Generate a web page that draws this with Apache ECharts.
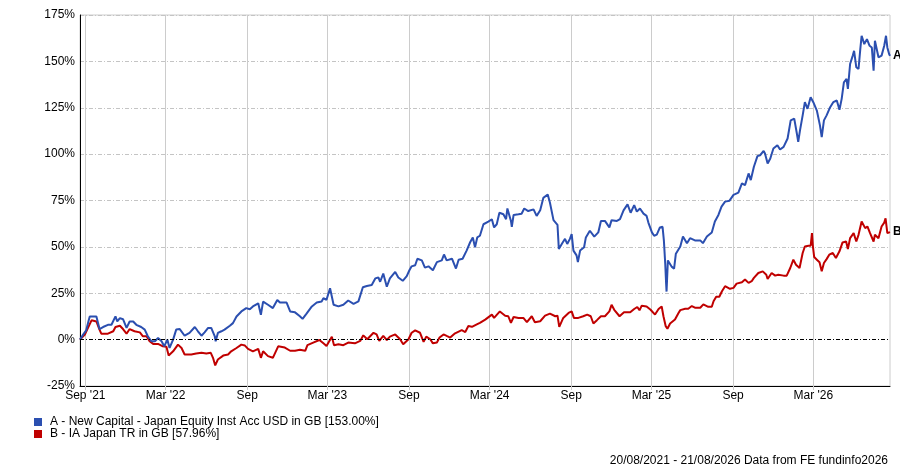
<!DOCTYPE html>
<html><head><meta charset="utf-8">
<script src="https://cdn.jsdelivr.net/npm/echarts@6/dist/echarts.min.js"></script>
<style>html,body{margin:0;padding:0;background:#fff}#c{width:900px;height:467px}</style>
</head><body><div id="c"></div>
<script>
const startDate = '2021-08-20';
const endDate = '2026-08-21';
const tickDates = ['2021-09-01','2022-03-01','2022-09-01','2023-03-01','2023-09-01','2024-03-01','2024-09-01','2025-03-01','2025-09-01','2026-03-01'];
const tickLabels = ["Sep '21","Mar '22","Sep","Mar '23","Sep","Mar '24","Sep","Mar '25","Sep","Mar '26"];
const yTicks = [-25, 175, 25];
const fundName = 'A - New Capital - Japan Equity Inst Acc USD in GB [153.00%]';
const sectorName = 'B - IA Japan TR in GB [57.96%]';
const footerText = '20/08/2021 - 21/08/2026 Data from FE fundinfo2026';

// days since start date
const fundDays = [
0,7,14,20,22,29,37,38,44,52, 63,71,80,84,90,97,105,112,120,127, 138,146,153,161,169,176,184,190,197,202,
210,217,225,236,247,259,266,274,281,289, 296,304,306,311,319,326,338,345,353,364, 375,383,390,402,408,413,424,435,445,
451,466,474,485,496,502,511,523,534,545, 549,556,564,572,583,594,605,617,628,638, 647,658,666,673,677,684,692,699,711,718,
728,737,743,748,756,761,771,778,786,796, 805,816,821,827,839,848,854,863,872,880, 886,891,896,
902,910,921,929,934,940,946,955,961,964, 972,974,978,989,996,1002,1011,1023,1030,1038, 1045,1055,1060,1068,1077,1080,1083,1089,1094,1099,
1105,1109,1113,1120,1123,1128,1137,1141,1150,1160, 1169,1175,1184,1194,1199,1211,1218,1226,1235,1242, 1250,1256,1263,1271,1278,1282,1290,1295,1301,1308,
1314,1317,1320,1322,1323,1326,1329,1335,1340,1344,
1354,1360,1369,1376,1387,1399,1405,1414,1425,1432, 1440,1447,1455,1465,1474,1485,1493,1500,1508,1513, 1520,1528,1534,1542,1545,1551,1557,1564,1573,1579,
1587,1596,1603,1611,1617,1620,1624,1630,1635,1641, 1648,1654,1662,1669,1673,1678,1684,1692,1699,1707, 1713,1718,1723,1729,1732,1737,1743,1746,1751,1756,
1760,1763,1769,1775,1781,1786,1790,1793,1801,1808, 1814,1818,1821,1825,1827
];
const fundValues = [
0,2.7,5,10.7,12.5,12.5,12.5,13.4,5.7,6.8, 8,8,12.5,9.8,11.6,11,6.3,9.8,9.8,8, 6.8,5.4,1.8,-0.9,-0.9,0.9,-0.9,-3.6,0,-4.5,
0,5.4,5.7,2.1,3.6,6.8,4.5,2.1,3.9,6.3, 6.3,1.8,-0.9,3.6,4.5,5.4,7.5,8.9,12.5,15.2, 17,16.4,17.9,19.6,13.4,20.5,18.8,17,21.4,
20,20,15.2,14.7,12.6,11.2,14,17.9,20,20.6, 22.3,21.5,27.7,18.8,17.9,18.8,21.1,19.3,20.6,28.2, 28.9,29.4,33,33.5,31.2,35.6,28.5,33,36.5,33.5,
31.7,34.2,37.4,39.5,40.1,43.6,42.7,38.8,39.5,37.4, 41.8,42.7,45.9,42.7,43.6,38.3,43.1,43.6,48,52.5, 55.1,49.8,55.1,
56,62.2,63.6,64.9,60.5,62.2,68.4,67.6,64.9,70.7, 64,60.8,67.2,67.6,67.9,70.7,69.3,70.2,66.7,69.7, 76.4,78.2,73.8,64.4,61.9,48.9,48,52.5,54.3,51.6,
54.3,56.9,48,45.4,41.8,48,49.8,55.1,58.7,55.5, 57.8,64,64,60.5,64.4,64,64.9,69.7,72.9,68.4, 72.5,69,70.7,67.9,66.7,63.1,57.8,56,56.6,60.5,
60.8,53.4,41,30.3,25.9,42.7,43.6,39.2,38.3,46.3,
50.2,55.6,52,54.7,53.5,53.5,52,55.6,57.8,63.7, 67.2,71.7,74.4,74.9,78,79.2,84.2,83.3,89.6,86, 93.2,98.9,99.4,101.7,100.3,94.9,97.6,103,104.8,102.5,
103.9,108.4,118.2,119.1,111,106.6,112.8,120.9,128,124.4, 130.7,128,123.5,115.5,109.2,118.2,120.9,125.3,128,128.9, 123.9,129.8,138.7,140.5,135.2,148.6,153.1,155.7,146.8,145.9,
156.6,163.8,159.3,162,158.4,157.5,145,161.1,152.2,153.1, 158.4,163.8,157.5,154,153
];
const sectorDays = [
0,11,18,26,37,44,48,63,67,75, 80,90,97,105,112,123,135,142,150,157, 165,176,187,195,200,210,221,229,236,251,
262,274,285,295,300,305,311,323,334,341, 353,364,372,379,390,402,408,413,424,435, 447,
451,462,474,485,496,508,513,526,540,549, 556,568,573,583,594,605,620,632,639,648, 662,669,675,684,692,699,711,722,729,741,
748,756,767,775,781,790,796,805,811,820, 827,835,846,861,869,876,884,895,
902,914,929,934,947,959,966,972,978,989, 1000,1008,1019,1026,1038,1049,1060,1072,1077,1081, 1085,1090,1102,1109,1114,1124,1135,1144,1152,1158,
1166,1175,1184,1194,1199,1205,1217,1227,1241,1250, 1257,1262,1267,1278,1287,1297,1305,1312,1316,1321, 1325,1331,1342,1350,
1354,1365,1372,1380,1387,1399,1406,1417,1425,1429, 1435,1442,1448,1455,1466,1474,1481,1493,1500,1508, 1515,1520,1530,1540,1548,1551,1560,1568,1575,1587,
1594,1602,1609,1615,1623,1630,1635,1643,1648,1651, 1653,1656,1662,1668,1673,1678,1684,1690,1698,1705, 1713,1720,1728,1732,1737,1745,1751,1756,1763,1771,
1776,1782,1790,1793,1801,1808,1814,1817,1821,1825, 1827
];
const sectorValues = [
0,2.7,6.3,10.4,9.8,5.4,3.2,3.2,2.3,4.5, 6.8,7.5,5.7,3.2,5.7,4.5,3.9,1.8,1.8,-0.9, -2.3,-2.3,-3.6,-3.9,-8.6,-6.3,-2.7,-4.5,-8,-8,
-7.5,-7.1,-7.5,-7.1,-9.8,-13.9,-10.7,-8.6,-8,-6.3, -4.5,-2.7,-3.2,-5,-6.3,-5,-9.8,-6.3,-8.9,-9.8, -3.6,
-4.3,-4.3,-6,-6,-5.5,-6,-3,-1.6,-0.2,-2, -3.4,1.6,-3,-2.5,-3,-1.6,-2,-0.7,2.3,0.2, 3.7,2.8,-0.7,2,-0.2,1.6,2.8,0.2,-2.5,0.2,
3.7,5,3.7,-1.2,1.6,0.2,-2,-1.6,1.1,2.8, 2,1.1,3.4,5.1,4.1,7.3,6.9,8.2,
9,10.8,13.5,11.7,15.2,12.9,12.6,9,12.2,11.7, 11.7,9.4,12.6,9.4,9.9,12.9,14,12.6,12.9,6.9, 6.4,11.7,14.4,15.2,11.7,11.7,12.6,13.5,12.6,8.7,
10.5,12.6,12.6,15.2,18.8,16.1,12.6,14.7,14.7,16.5, 17.6,15.8,18.3,17.9,16.1,13.5,16.5,17.9,12.6,7.3, 5.9,8.7,10.8,14.4,
15.9,16.6,16.6,18.1,17.2,17.2,19,17.7,17.7,20.7, 23.1,23.1,26.1,28.8,27.4,27.9,30.2,30.9,32.4,30.6, 31.5,33.3,35.9,36.8,35,32.7,35.9,34.5,35,34.5,
34.5,38.6,43.1,40.4,38.6,46.7,50.2,50.6,50.6,57.4, 50.6,44.5,43.1,41.7,36.8,41.3,43.4,45.8,46.7,44, 47.6,52.4,52.9,48.8,54.7,57.4,52.9,56.5,63.7,60.1,
61,57.4,52.9,56.5,54.7,61,63.1,65.4,57.4,57.4, 57.96
];

function toTime(s, addDays) {
  const p = s.split('-').map(Number);
  return new Date(p[0], p[1] - 1, p[2] + (addDays || 0)).getTime();
}
const tickTimes = tickDates.map(d => toTime(d));
const fundData = fundDays.map((d, i) => [toTime(startDate, d), fundValues[i]]);
const sectorData = sectorDays.map((d, i) => [toTime(startDate, d), sectorValues[i]]);

const FONT = '"Liberation Sans", Arial, sans-serif';
const FS = 12;
const chart = echarts.init(document.getElementById('c'), null, {renderer: 'canvas'});
chart.setOption({
  animation: false,
  textStyle: {fontFamily: FONT},
  color: ['#2B4FB0', '#C00000'],
  title: {
    text: footerText, right: 12, top: 455, padding: 0,
    textStyle: {fontFamily: FONT, fontSize: FS, fontWeight: 'normal', color: '#000', lineHeight: 12}
  },
  legend: {
    orient: 'vertical', left: 34, top: 416, padding: 0,
    itemWidth: 8, itemHeight: 8, itemGap: 0, icon: 'rect',
    textStyle: {fontFamily: FONT, fontSize: FS, color: '#000', lineHeight: 12, padding: [0, 0, 0, 3]},
    data: [fundName, sectorName]
  },
  grid: {left: 80, right: 10, top: 15, bottom: 81, show: true, borderColor: '#ccc', borderWidth: 1, containLabel: false},
  xAxis: {
    type: 'value',
    min: toTime(startDate), max: toTime(endDate),
    axisLine: {show: true, onZero: false, lineStyle: {color: '#000', width: 1}},
    axisTick: {show: true, customValues: tickTimes, length: 4, lineStyle: {color: '#ccc'}},
    axisLabel: {
      customValues: tickTimes, color: '#000', fontSize: FS, fontFamily: FONT, margin: 4,
      formatter: function (v) {
        let best = 0, bd = Infinity;
        tickTimes.forEach((t, i) => { const dd = Math.abs(t - v); if (dd < bd) { bd = dd; best = i; } });
        return tickLabels[best];
      }
    },
    splitLine: {show: true, lineStyle: {color: '#ccc', width: 1}}
  },
  yAxis: {
    type: 'value', min: yTicks[0], max: yTicks[1], interval: yTicks[2],
    axisLine: {show: true, lineStyle: {color: '#000', width: 1}},
    axisTick: {show: false},
    axisLabel: {formatter: '{value}%', color: '#000', fontSize: FS, fontFamily: FONT, margin: 5},
    splitLine: {show: true, lineStyle: {color: '#c4c4c4', width: 1, type: [4, 2, 1, 2]}}
  },
  series: [
    {
      name: fundName, type: 'line', data: fundData, showSymbol: false, symbol: 'none',
      lineStyle: {width: 2, color: '#2B4FB0'}, itemStyle: {color: '#2B4FB0'},
      endLabel: {show: true, formatter: 'A', fontWeight: 'bold', fontSize: FS, color: '#000', distance: 3},
      z: 3
    },
    {
      name: sectorName, type: 'line', data: sectorData, showSymbol: false, symbol: 'none',
      lineStyle: {width: 2, color: '#C00000'}, itemStyle: {color: '#C00000'},
      endLabel: {show: true, formatter: 'B', fontWeight: 'bold', fontSize: FS, color: '#000', distance: 3},
      markLine: {
        silent: true, symbol: ['none', 'none'], label: {show: false},
        lineStyle: {color: '#000', width: 1, type: [4, 2, 1, 2]},
        emphasis: {disabled: true},
        data: [{yAxis: 0}]
      },
      z: 2
    }
  ]
});
</script></body></html>
